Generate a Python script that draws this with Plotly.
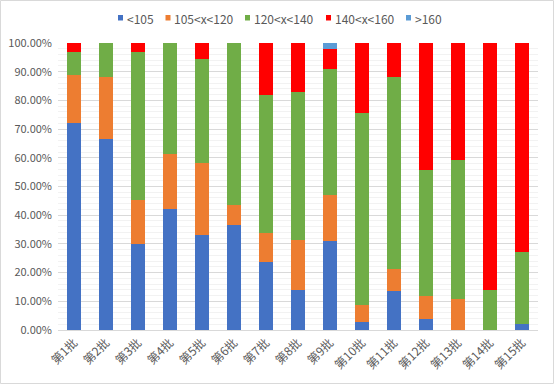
import plotly.graph_objects as go

categories = ["第1批", "第2批", "第3批", "第4批", "第5批", "第6批", "第7批", "第8批",
              "第9批", "第10批", "第11批", "第12批", "第13批", "第14批", "第15批"]
series_names = ["<105", "105<x<120", "120<x<140", "140<x<160", ">160"]
lt105 = [72.1, 66.6, 30.0, 42.2, 33.1, 36.6, 23.8, 14.1, 31.0, 2.8, 13.6, 3.8, 0.0, 0.0, 2.1]
r105_120 = [16.6, 21.4, 15.3, 19.3, 25.1, 6.8, 10.0, 17.4, 15.9, 5.9, 7.7, 8.2, 10.8, 0.0, 0.0]
r120_140 = [8.3, 12.0, 51.7, 38.5, 36.3, 56.6, 48.2, 51.5, 44.1, 67.0, 66.9, 43.9, 48.6, 14.1, 25.1]
r140_160 = [3.0, 0.0, 3.0, 0.0, 5.5, 0.0, 18.0, 17.0, 7.0, 24.3, 11.8, 44.1, 40.6, 85.9, 72.8]
gt160 = [0.0, 0.0, 0.0, 0.0, 0.0, 0.0, 0.0, 0.0, 2.0, 0.0, 0.0, 0.0, 0.0, 0.0, 0.0]
colors = ["#4472C4", "#ED7D31", "#70AD47", "#FF0000", "#5B9BD5"]
y_ticks = [0, 10, 20, 30, 40, 50, 60, 70, 80, 90, 100]
y_tick_labels = [f"{v:.2f}%" for v in y_ticks]

font_family = "Noto Sans CJK SC, Liberation Sans, sans-serif"
W, H = 554, 384
L, R, T, B = 58, 16, 43, 54
pw, ph = W - L - R, H - T - B

def px_x(p):
    return (p - L) / pw

def px_y(p):
    return (H - B - p) / ph

fig = go.Figure()
for name, vals, col in zip(series_names, [lt105, r105_120, r120_140, r140_160, gt160], colors):
    fig.add_trace(go.Bar(x=categories, y=vals, name=name, showlegend=False,
                         marker=dict(color=col, line=dict(width=0))))

# legend (top, centred like the original): swatch + label per series
legend_x = [118, 165.5, 245, 326, 406]
for name, col, lx in zip(series_names, colors, legend_x):
    fig.add_shape(type="rect", xref="paper", yref="paper",
                  x0=px_x(lx), x1=px_x(lx + 5), y0=px_y(20.5), y1=px_y(15),
                  fillcolor=col, line=dict(width=0))
    fig.add_annotation(xref="paper", yref="paper", x=px_x(lx + 6.5), y=px_y(18),
                       xanchor="left", yanchor="middle", showarrow=False,
                       text=name.replace("<", "&lt;").replace(">", "&gt;"),
                       font=dict(size=12, color="#595959", family=font_family))

fig.update_layout(
    width=W, height=H, barmode="stack", bargap=0.59,
    margin=dict(l=L, r=R, t=T, b=B, autoexpand=False),
    paper_bgcolor="white", plot_bgcolor="white",
    font=dict(family=font_family, color="#595959", size=10),
    showlegend=False,
)
fig.update_yaxes(range=[0, 100], tickvals=y_ticks, ticktext=y_tick_labels, automargin=False,
                 showgrid=True, gridcolor="#D9D9D9", gridwidth=1,
                 minor=dict(dtick=2, showgrid=True, gridcolor="#F2F2F2", gridwidth=1),
                 zeroline=False, showline=False, ticks="", ticklabelstandoff=5,
                 tickfont=dict(size=11, color="#595959"))
fig.update_xaxes(tickangle=-45, showline=True, linecolor="#D9D9D9", linewidth=1, automargin=False,
                 ticks="", tickfont=dict(size=12, color="#595959"))
# outer chart border
fig.add_shape(type="rect", xref="paper", yref="paper",
              x0=px_x(0.5), x1=px_x(W - 0.5), y0=px_y(H - 0.5), y1=px_y(0.5),
              line=dict(color="#D9D9D9", width=1), fillcolor="rgba(0,0,0,0)", layer="below")
fig.write_html("out.html", config={"displayModeBar": False},
               post_script="document.body.style.margin='0px';")
